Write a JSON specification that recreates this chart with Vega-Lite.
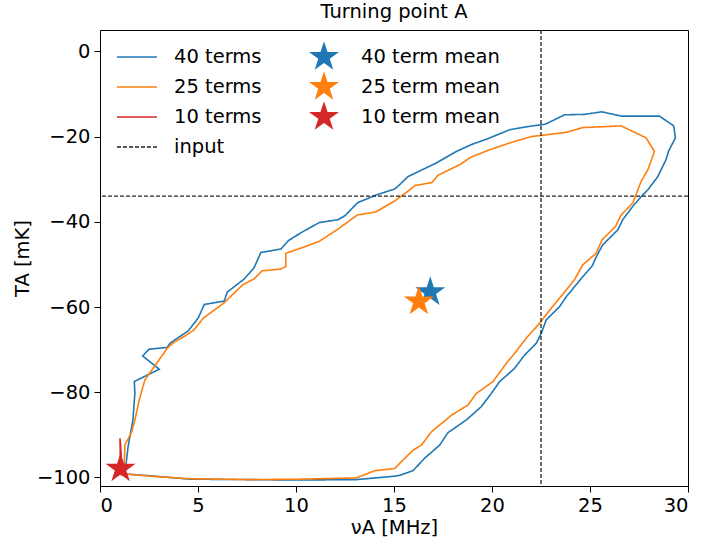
{
  "$schema": "https://vega.github.io/schema/vega-lite/v6.json",
  "width": 588,
  "height": 456,
  "autosize": {"type": "none"},
  "padding": {"left": 100, "top": 30, "right": 14, "bottom": 53},
  "title": {"text": "Turning point A", "fontSize": 19.5, "fontWeight": "normal", "offset": 7, "color": "black", "font": "DejaVu Sans"},
  "config": {
    "font": "DejaVu Sans",
    "view": {"stroke": "black", "strokeWidth": 1},
    "axis": {"labelFontSize": 19.5, "titleFontSize": 19.5, "titleFontWeight": "normal", "labelColor": "black", "titleColor": "black", "tickColor": "black", "domainColor": "black", "tickSize": 6, "grid": false, "labelPadding": 4, "titlePadding": 4},
    "legend": {"labelFontSize": 19.5, "labelColor": "black", "labelFont": "DejaVu Sans"}
  },
  "datasets": {
    "curves": [
      {"series":"40 terms","i":0,"x":1.27,"y":-99.1},{"series":"40 terms","i":1,"x":1.43,"y":-92.9},{"series":"40 terms","i":2,"x":1.68,"y":-86.5},{"series":"40 terms","i":3,"x":1.78,"y":-80.2},{"series":"40 terms","i":4,"x":1.75,"y":-77.5},{"series":"40 terms","i":5,"x":3.02,"y":-74.6},{"series":"40 terms","i":6,"x":2.18,"y":-71.5},{"series":"40 terms","i":7,"x":2.5,"y":-69.9},{"series":"40 terms","i":8,"x":3.43,"y":-69.5},{"series":"40 terms","i":9,"x":3.57,"y":-68.5},
      {"series":"40 terms","i":10,"x":4.5,"y":-65.6},{"series":"40 terms","i":11,"x":5.01,"y":-62.6},{"series":"40 terms","i":12,"x":5.32,"y":-59.4},{"series":"40 terms","i":13,"x":6.34,"y":-58.6},{"series":"40 terms","i":14,"x":6.49,"y":-56.5},{"series":"40 terms","i":15,"x":7.34,"y":-53.5},{"series":"40 terms","i":16,"x":7.86,"y":-50.8},{"series":"40 terms","i":17,"x":8.21,"y":-47.2},{"series":"40 terms","i":18,"x":9.23,"y":-46.4},{"series":"40 terms","i":19,"x":9.62,"y":-44.4},
      {"series":"40 terms","i":20,"x":10.28,"y":-42.5},{"series":"40 terms","i":21,"x":11.18,"y":-40.2},{"series":"40 terms","i":22,"x":12.15,"y":-39.5},{"series":"40 terms","i":23,"x":12.49,"y":-38.6},{"series":"40 terms","i":24,"x":13.15,"y":-35.5},{"series":"40 terms","i":25,"x":14.1,"y":-33.7},{"series":"40 terms","i":26,"x":15.04,"y":-32.3},{"series":"40 terms","i":27,"x":15.29,"y":-31.3},{"series":"40 terms","i":28,"x":15.71,"y":-29.4},{"series":"40 terms","i":29,"x":17.16,"y":-26.2},
      {"series":"40 terms","i":30,"x":18.18,"y":-23.5},{"series":"40 terms","i":31,"x":18.94,"y":-21.9},{"series":"40 terms","i":32,"x":19.79,"y":-20.5},{"series":"40 terms","i":33,"x":20.9,"y":-18.4},{"series":"40 terms","i":34,"x":21.92,"y":-17.6},{"series":"40 terms","i":35,"x":22.59,"y":-17.2},{"series":"40 terms","i":36,"x":22.77,"y":-17.0},{"series":"40 terms","i":37,"x":23.7,"y":-14.9},{"series":"40 terms","i":38,"x":24.72,"y":-14.8},{"series":"40 terms","i":39,"x":25.6,"y":-14.2},
      {"series":"40 terms","i":40,"x":26.59,"y":-15.2},{"series":"40 terms","i":41,"x":28.54,"y":-15.2},{"series":"40 terms","i":42,"x":29.27,"y":-17.5},{"series":"40 terms","i":43,"x":29.36,"y":-20.3},{"series":"40 terms","i":44,"x":29.02,"y":-23.3},{"series":"40 terms","i":45,"x":28.88,"y":-25.4},{"series":"40 terms","i":46,"x":28.46,"y":-29.4},{"series":"40 terms","i":47,"x":27.95,"y":-32.5},{"series":"40 terms","i":48,"x":27.61,"y":-34.1},{"series":"40 terms","i":49,"x":27.18,"y":-36.4},
      {"series":"40 terms","i":50,"x":26.67,"y":-39.5},{"series":"40 terms","i":51,"x":26.59,"y":-40.3},{"series":"40 terms","i":52,"x":26.42,"y":-41.9},{"series":"40 terms","i":53,"x":25.65,"y":-45.4},{"series":"40 terms","i":54,"x":25.32,"y":-48.2},{"series":"40 terms","i":55,"x":25.11,"y":-50.4},{"series":"40 terms","i":56,"x":24.63,"y":-52.9},{"series":"40 terms","i":57,"x":23.79,"y":-57.6},{"series":"40 terms","i":58,"x":23.45,"y":-59.9},{"series":"40 terms","i":59,"x":22.77,"y":-63.0},
      {"series":"40 terms","i":60,"x":22.51,"y":-66.2},{"series":"40 terms","i":61,"x":22.26,"y":-68.5},{"series":"40 terms","i":62,"x":21.66,"y":-71.3},{"series":"40 terms","i":63,"x":21.15,"y":-74.4},{"series":"40 terms","i":64,"x":20.39,"y":-77.5},{"series":"40 terms","i":65,"x":19.96,"y":-80.3},{"series":"40 terms","i":66,"x":19.45,"y":-83.4},{"series":"40 terms","i":67,"x":18.69,"y":-86.5},{"series":"40 terms","i":68,"x":17.75,"y":-89.5},{"series":"40 terms","i":69,"x":17.33,"y":-92.4},
      {"series":"40 terms","i":70,"x":16.56,"y":-95.5},{"series":"40 terms","i":71,"x":15.97,"y":-98.4},{"series":"40 terms","i":72,"x":15.29,"y":-99.5},{"series":"40 terms","i":73,"x":15.04,"y":-99.7},{"series":"40 terms","i":74,"x":13.08,"y":-100.5},{"series":"40 terms","i":75,"x":10.0,"y":-100.6},{"series":"40 terms","i":76,"x":7.65,"y":-100.5},{"series":"40 terms","i":77,"x":4.59,"y":-100.4},{"series":"40 terms","i":78,"x":2.55,"y":-99.6},{"series":"40 terms","i":79,"x":1.36,"y":-99.2},{"series":"40 terms","i":80,"x":1.27,"y":-99.1},

      {"series":"25 terms","i":0,"x":1.22,"y":-98.9},{"series":"25 terms","i":1,"x":1.27,"y":-92.4},{"series":"25 terms","i":2,"x":1.62,"y":-89.3},{"series":"25 terms","i":3,"x":1.78,"y":-86.5},{"series":"25 terms","i":4,"x":1.95,"y":-83.0},{"series":"25 terms","i":5,"x":2.0,"y":-81.8},{"series":"25 terms","i":6,"x":2.29,"y":-77.1},{"series":"25 terms","i":7,"x":2.89,"y":-73.2},{"series":"25 terms","i":8,"x":3.43,"y":-69.7},{"series":"25 terms","i":9,"x":3.74,"y":-68.4},
      {"series":"25 terms","i":10,"x":4.33,"y":-66.8},{"series":"25 terms","i":11,"x":4.79,"y":-65.4},{"series":"25 terms","i":12,"x":5.27,"y":-62.6},{"series":"25 terms","i":13,"x":6.34,"y":-59.0},{"series":"25 terms","i":14,"x":7.27,"y":-54.8},{"series":"25 terms","i":15,"x":7.86,"y":-53.4},{"series":"25 terms","i":16,"x":8.27,"y":-51.5},{"series":"25 terms","i":17,"x":9.23,"y":-51.1},{"series":"25 terms","i":18,"x":9.48,"y":-50.5},{"series":"25 terms","i":19,"x":9.48,"y":-47.4},
      {"series":"25 terms","i":20,"x":10.36,"y":-46.0},{"series":"25 terms","i":21,"x":11.18,"y":-44.6},{"series":"25 terms","i":22,"x":12.15,"y":-41.7},{"series":"25 terms","i":23,"x":13.13,"y":-38.4},{"series":"25 terms","i":24,"x":14.07,"y":-37.7},{"series":"25 terms","i":25,"x":15.04,"y":-35.1},{"series":"25 terms","i":26,"x":15.8,"y":-32.5},{"series":"25 terms","i":27,"x":16.06,"y":-31.5},{"series":"25 terms","i":28,"x":16.94,"y":-30.8},{"series":"25 terms","i":29,"x":17.24,"y":-29.1},
      {"series":"25 terms","i":30,"x":18.35,"y":-26.6},{"series":"25 terms","i":31,"x":18.94,"y":-24.8},{"series":"25 terms","i":32,"x":19.88,"y":-23.1},{"series":"25 terms","i":33,"x":20.9,"y":-21.5},{"series":"25 terms","i":34,"x":22.0,"y":-20.0},{"series":"25 terms","i":35,"x":22.77,"y":-19.6},{"series":"25 terms","i":36,"x":23.79,"y":-19.0},{"series":"25 terms","i":37,"x":24.63,"y":-17.9},{"series":"25 terms","i":38,"x":26.59,"y":-17.5},{"series":"25 terms","i":39,"x":27.86,"y":-20.3},
      {"series":"25 terms","i":40,"x":28.29,"y":-23.5},{"series":"25 terms","i":41,"x":27.95,"y":-27.8},{"series":"25 terms","i":42,"x":27.61,"y":-30.5},{"series":"25 terms","i":43,"x":27.18,"y":-35.6},{"series":"25 terms","i":44,"x":26.59,"y":-38.4},{"series":"25 terms","i":45,"x":26.3,"y":-41.1},{"series":"25 terms","i":46,"x":25.62,"y":-44.2},{"series":"25 terms","i":47,"x":25.31,"y":-47.4},{"series":"25 terms","i":48,"x":24.63,"y":-50.1},{"series":"25 terms","i":49,"x":24.21,"y":-53.6},
      {"series":"25 terms","i":50,"x":23.45,"y":-57.9},{"series":"25 terms","i":51,"x":23.02,"y":-60.3},{"series":"25 terms","i":52,"x":22.43,"y":-63.8},{"series":"25 terms","i":53,"x":21.75,"y":-67.3},{"series":"25 terms","i":54,"x":21.15,"y":-70.9},{"series":"25 terms","i":55,"x":20.73,"y":-73.2},{"series":"25 terms","i":56,"x":20.05,"y":-77.5},{"series":"25 terms","i":57,"x":19.2,"y":-80.3},{"series":"25 terms","i":58,"x":18.77,"y":-83.0},{"series":"25 terms","i":59,"x":17.93,"y":-85.4},
      {"series":"25 terms","i":60,"x":16.91,"y":-89.3},{"series":"25 terms","i":61,"x":16.4,"y":-92.4},{"series":"25 terms","i":62,"x":15.97,"y":-93.6},{"series":"25 terms","i":63,"x":15.29,"y":-96.7},{"series":"25 terms","i":64,"x":15.04,"y":-97.9},{"series":"25 terms","i":65,"x":14.02,"y":-98.4},{"series":"25 terms","i":66,"x":13.08,"y":-100.1},{"series":"25 terms","i":67,"x":10.19,"y":-100.4},{"series":"25 terms","i":68,"x":7.65,"y":-100.5},{"series":"25 terms","i":69,"x":4.59,"y":-100.3},
      {"series":"25 terms","i":70,"x":2.55,"y":-99.7},{"series":"25 terms","i":71,"x":1.33,"y":-99.2},{"series":"25 terms","i":72,"x":1.22,"y":-98.9},

      {"series":"10 terms","i":0,"x":1.05,"y":-99.3},{"series":"10 terms","i":1,"x":1.04,"y":-96.0},{"series":"10 terms","i":2,"x":1.02,"y":-90.8},{"series":"10 terms","i":3,"x":1.07,"y":-94.0},{"series":"10 terms","i":4,"x":1.1,"y":-98.0},{"series":"10 terms","i":5,"x":1.15,"y":-99.4},{"series":"10 terms","i":6,"x":1.05,"y":-99.3}
    ],
    "means": [
      {"mean":"40 term mean","x":16.85,"y":-56.5},
      {"mean":"25 term mean","x":16.27,"y":-58.7},
      {"mean":"10 term mean","x":1.05,"y":-97.9}
    ]
  },
  "layer": [
    {
      "data": {"name": "curves"},
      "mark": {"type": "line", "strokeWidth": 1.6, "clip": true},
      "encoding": {
        "x": {"field": "x", "type": "quantitative", "scale": {"domain": [0, 30], "nice": false, "zero": false}, "axis": {"values": [0, 5, 10, 15, 20, 25, 30], "title": "νA [MHz]"}},
        "y": {"field": "y", "type": "quantitative", "scale": {"domain": [-102, 5], "nice": false, "zero": false}, "axis": {"values": [0, -20, -40, -60, -80, -100], "title": "TA [mK]"}},
        "order": {"field": "i", "type": "quantitative"},
        "stroke": {"field": "series", "type": "nominal", "scale": {"domain": ["40 terms", "25 terms", "10 terms", "input"], "range": ["#1f77b4", "#ff7f0e", "#d62728", "#222222"]},
          "legend": {"title": null, "orient": "none", "legendX": 16, "legendY": 12, "padding": 0, "symbolType": "stroke", "symbolSize": 1600, "symbolStrokeWidth": 1.6, "labelOffset": 16, "clipHeight": 30, "rowPadding": 0}},
        "strokeDash": {"field": "series", "type": "nominal", "scale": {"domain": ["40 terms", "25 terms", "10 terms", "input"], "range": [[1, 0], [1, 0], [1, 0], [4, 2]]},
          "legend": {"title": null, "orient": "none", "legendX": 16, "legendY": 12, "padding": 0, "symbolType": "stroke", "symbolSize": 1600, "symbolStrokeWidth": 1.6, "labelOffset": 16, "clipHeight": 30, "rowPadding": 0}}
      }
    },
    {
      "data": {"values": [{"series": "input", "xv": 22.5}]},
      "mark": {"type": "rule", "strokeWidth": 1.3},
      "encoding": {
        "x": {"field": "xv", "type": "quantitative"},
        "stroke": {"field": "series", "type": "nominal"},
        "strokeDash": {"field": "series", "type": "nominal"}
      }
    },
    {
      "data": {"values": [{"series": "input", "yv": -34}]},
      "mark": {"type": "rule", "strokeWidth": 1.3},
      "encoding": {
        "y": {"field": "yv", "type": "quantitative"},
        "stroke": {"field": "series", "type": "nominal"},
        "strokeDash": {"field": "series", "type": "nominal"}
      }
    },
    {
      "data": {"name": "means"},
      "mark": {"type": "point", "filled": true, "opacity": 1, "size": 1000, "strokeWidth": 0,
        "shape": "M0,-1L0.2245,-0.309L0.951,-0.309L0.363,0.118L0.588,0.809L0,0.382L-0.588,0.809L-0.363,0.118L-0.951,-0.309L-0.2245,-0.309Z"},
      "encoding": {
        "x": {"field": "x", "type": "quantitative"},
        "y": {"field": "y", "type": "quantitative"},
        "fill": {"field": "mean", "type": "nominal", "scale": {"domain": ["40 term mean", "25 term mean", "10 term mean"], "range": ["#1f77b4", "#ff7f0e", "#d62728"]},
          "legend": {"title": null, "orient": "none", "legendX": 208, "legendY": 12, "padding": 0, "symbolType": "M0,-1L0.2245,-0.309L0.951,-0.309L0.363,0.118L0.588,0.809L0,0.382L-0.588,0.809L-0.363,0.118L-0.951,-0.309L-0.2245,-0.309Z", "symbolSize": 1000, "symbolStrokeWidth": 0, "symbolOpacity": 1, "labelOffset": 21, "clipHeight": 30, "rowPadding": 0}}
      }
    }
  ]
}
